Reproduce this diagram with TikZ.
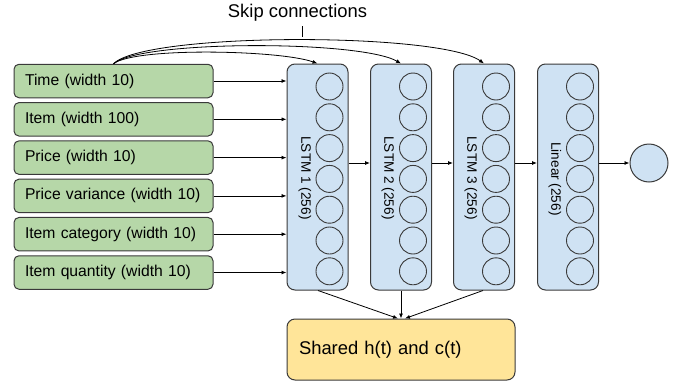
\documentclass[tikz,border=0pt]{standalone}
\usepackage{fontspec}
\setmainfont{Liberation Sans}
\usetikzlibrary{arrows.meta,calc}
\definecolor{gfill}{HTML}{B6D7A8}
\definecolor{bfill}{HTML}{CFE2F3}
\definecolor{yfill}{HTML}{FFE599}
\definecolor{edge}{HTML}{3A3A3A}
\tikzset{
  inbox/.style={draw=edge, line width=1pt, fill=gfill, rounded corners=5pt,
    minimum width=199pt, minimum height=33.5pt, inner xsep=11pt, text width=177pt,
    align=left, font=\fontsize{15.7}{18}\selectfont},
  layerbox/.style={draw=edge, line width=1pt, fill=bfill, rounded corners=8pt,
    minimum width=61pt, minimum height=226pt},
  unit/.style={draw=edge, line width=0.9pt, circle, minimum size=27pt, inner sep=0pt},
  layerlabel/.style={rotate=-90, font=\fontsize{13.6}{16}\selectfont, inner sep=0pt},
  arr/.style={draw=black, line width=0.8pt, -{Latex[length=5pt,width=4pt]}},
}
\begin{document}
\begin{tikzpicture}[x=1pt,y=-1pt]
\useasboundingbox (0,0) rectangle (678,381);
% input boxes
\node[inbox] (time) at (113.5,81.0) {Time (width 10)};
\node[inbox] (item) at (113.5,119.3) {Item (width 100)};
\node[inbox] (price) at (113.5,157.6) {Price (width 10)};
\node[inbox] (pvar) at (113.5,195.9) {Price variance (width 10)};
\node[inbox] (icat) at (113.5,234.2) {Item category (width 10)};
\node[inbox] (iqty) at (113.5,272.5) {Item quantity (width 10)};
% layer boxes
\node[layerbox] (l1) at (317.5,177) {};
\node[layerbox] (l2) at (401,177) {};
\node[layerbox] (l3) at (484,177) {};
\node[layerbox] (lin) at (568,177) {};
\foreach \b in {l1,l2,l3,lin}{
  \foreach \i in {0,...,6}{
    \node[unit] (\b u\i) at ($(\b.north)+(12,23+30.8*\i)$) {};
  }
}
\node[layerlabel] (t1) at ($(l1.center)+(-12.5,1)$) {LSTM 1 (256)};
\node[layerlabel] (t2) at ($(l2.center)+(-13,1)$) {LSTM 2 (256)};
\node[layerlabel] (t3) at ($(l3.center)+(-13,1)$) {LSTM 3 (256)};
\node[layerlabel] (t4) at ($(lin.center)+(-13,2)$) {Linear (256)};
% output unit
\node[draw=edge, line width=1pt, fill=bfill, circle, minimum size=38pt, inner sep=0pt] (out) at (649,163) {};
% shared state
\node[draw=edge, line width=1pt, fill=yfill, rounded corners=8pt, minimum width=228pt,
  minimum height=61pt, inner xsep=12pt, text width=204pt, align=left,
  font=\fontsize{18.4}{22}\selectfont] (sh) at (401,349.5) {Shared h(t) and c(t)};
% skip label
\node[font=\fontsize{18.4}{22}\selectfont, inner sep=0pt] (skip) at (297.5,13) {Skip connections};
\coordinate (tka) at (302,26);
\coordinate (tkb) at (302,37);
\draw[line width=0.8pt] (tka) -- (tkb);
% input arrows
\foreach \n in {time,item,price,pvar,icat,iqty}{
  \draw[arr] (\n.east) -- (\n.east -| l1.west);
}
% layer arrows
\draw[arr] ([yshift=14pt]l1.east) -- ([yshift=14pt]l2.west);
\draw[arr] ([yshift=14pt]l2.east) -- ([yshift=14pt]l3.west);
\draw[arr] ([yshift=14pt]l3.east) -- ([yshift=14pt]lin.west);
\draw[arr] ([yshift=14pt]lin.east) -- (out.west);
% skip connections
\draw[arr] (time.north) .. controls (135,47) and (280,50) .. (l1.north);
\draw[arr] (time.north) .. controls (140,40) and (360,40) .. (l2.north);
\draw[arr] (time.north) .. controls (145,32) and (440,32) .. (l3.north);
% to shared
\draw[arr] ([xshift=0.5pt]l1.south) -- ([xshift=-3pt]sh.north);
\draw[arr] (l2.south) -- (sh.north);
\draw[arr] ([xshift=-1pt]l3.south) -- ([xshift=4pt]sh.north);
\end{tikzpicture}
\end{document}
